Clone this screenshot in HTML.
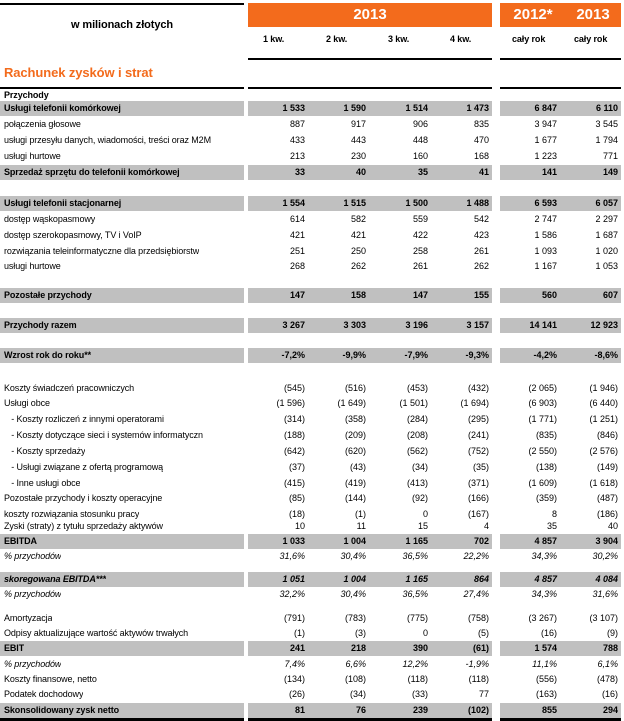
<!DOCTYPE html>
<html><head><meta charset="utf-8">
<style>
body{margin:0;background:#fff;width:624px;height:721px;overflow:hidden;position:relative;font-family:"Liberation Sans",Arial,sans-serif;font-size:9px;color:#000}
.bar{position:absolute;background:#c0c0c0;height:15px}
.ln{position:absolute;height:2px;background:#000}
.or{position:absolute;background:#f36b1c;color:#fff;font-weight:bold;font-size:15px;text-align:center;line-height:24px}
.t{position:absolute;white-space:nowrap;line-height:15px;letter-spacing:-0.1px}
.n{position:absolute;white-space:nowrap;line-height:15px;text-align:right;width:60px}
</style></head><body>
<div class="ln" style="left:0;top:3px;width:244px"></div>
<div class="t" style="left:0;width:244px;text-align:center;top:18px;font-size:11px;font-weight:bold">w milionach złotych</div>
<div class="or" style="left:248px;top:3px;width:244px;height:24px">2013</div>
<div class="or" style="left:500px;top:3px;width:121px;height:24px"><span style="position:absolute;left:6px;width:54px">2012*</span><span style="position:absolute;left:66px;width:54px">2013</span></div>
<div class="t" style="left:263px;top:32px;font-weight:bold">1 kw.</div>
<div class="t" style="left:326px;top:32px;font-weight:bold">2 kw.</div>
<div class="t" style="left:388px;top:32px;font-weight:bold">3 kw.</div>
<div class="t" style="left:450px;top:32px;font-weight:bold">4 kw.</div>
<div class="t" style="left:512px;top:32px;font-weight:bold">cały rok</div>
<div class="t" style="left:574px;top:32px;font-weight:bold">cały rok</div>
<div class="ln" style="left:248px;top:58px;width:244px"></div>
<div class="ln" style="left:500px;top:58px;width:121px"></div>
<div class="t" style="left:4px;top:64px;font-size:13px;font-weight:bold;color:#f36b1c;line-height:18px">Rachunek zysków i strat</div>
<div class="ln" style="left:0;top:87px;width:244px"></div>
<div class="ln" style="left:248px;top:87px;width:244px"></div>
<div class="ln" style="left:500px;top:87px;width:121px"></div>
<div class="ln" style="left:0;top:718px;width:244px;height:3px"></div>
<div class="ln" style="left:248px;top:718px;width:244px;height:3px"></div>
<div class="ln" style="left:500px;top:718px;width:121px;height:3px"></div>
<script>
const labels=["Przychody","Usługi telefonii komórkowej","połączenia głosowe","usługi przesyłu danych, wiadomości, treści oraz M2M","usługi hurtowe","Sprzedaż sprzętu do telefonii komórkowej","Usługi telefonii stacjonarnej","dostęp wąskopasmowy","dostęp szerokopasmowy, TV i VoIP","rozwiązania teleinformatyczne dla przedsiębiorstw","usługi hurtowe","Pozostałe przychody","Przychody razem","Wzrost rok do roku**","Koszty świadczeń pracowniczych","Usługi obce","   - Koszty rozliczeń z innymi operatorami","   - Koszty dotyczące sieci i systemów informatyczn","   - Koszty sprzedaży","   - Usługi związane z ofertą programową","   - Inne usługi obce","Pozostałe przychody i koszty operacyjne","koszty rozwiązania stosunku pracy","Zyski (straty) z tytułu sprzedaży aktywów","EBITDA","% przychodów","skoregowana EBITDA***","% przychodów","Amortyzacja","Odpisy aktualizujące wartość aktywów trwałych","EBIT","% przychodów","Koszty finansowe, netto","Podatek dochodowy","Skonsolidowany zysk netto"];
const styles=["h","b","n","n","n","b","b","n","n","n","n","b","b","b","n","n","n","n","n","n","n","n","n","n","b","i","bi","i","n","n","b","i","n","n","b"];
const rowTops=[88,101,117,133,149,165,196,212,228,244,259,288,318,348,381,396,412,428,444,460,476,491,507,519,534,549,572,587,611,626,641,657,672,687,703];
const q1=["","1 533","887","433","213","33","1 554","614","421","251","268","147","3 267","-7,2%","(545)","(1 596)","(314)","(188)","(642)","(37)","(415)","(85)","(18)","10","1 033","31,6%","1 051","32,2%","(791)","(1)","241","7,4%","(134)","(26)","81"];
const q2=["","1 590","917","443","230","40","1 515","582","421","250","262","158","3 303","-9,9%","(516)","(1 649)","(358)","(209)","(620)","(43)","(419)","(144)","(1)","11","1 004","30,4%","1 004","30,4%","(783)","(3)","218","6,6%","(108)","(34)","76"];
const q3=["","1 514","906","448","160","35","1 500","559","422","258","261","147","3 196","-7,9%","(453)","(1 501)","(284)","(208)","(562)","(34)","(413)","(92)","0","15","1 165","36,5%","1 165","36,5%","(775)","0","390","12,2%","(118)","(33)","239"];
const q4=["","1 473","835","470","168","41","1 488","542","423","261","262","155","3 157","-9,3%","(432)","(1 694)","(295)","(241)","(752)","(35)","(371)","(166)","(167)","4","702","22,2%","864","27,4%","(758)","(5)","(61)","-1,9%","(118)","77","(102)"];
const y2012=["","6 847","3 947","1 677","1 223","141","6 593","2 747","1 586","1 093","1 167","560","14 141","-4,2%","(2 065)","(6 903)","(1 771)","(835)","(2 550)","(138)","(1 609)","(359)","8","35","4 857","34,3%","4 857","34,3%","(3 267)","(16)","1 574","11,1%","(556)","(163)","855"];
const y2013=["","6 110","3 545","1 794","771","149","6 057","2 297","1 687","1 020","1 053","607","12 923","-8,6%","(1 946)","(6 440)","(1 251)","(846)","(2 576)","(149)","(1 618)","(487)","(186)","40","3 904","30,2%","4 084","31,6%","(3 107)","(9)","788","6,1%","(478)","(16)","294"];
const series=[q1,q2,q3,q4,y2012,y2013];
const rightEdges=[305,366,428,489,557,618];
labels.forEach((lab,i)=>{
  const st=styles[i],top=rowTops[i];
  const bold=st.includes('b')||st==='h',ital=st.includes('i'),gray=st==='b'||st==='bi';
  if(gray){
    [[0,244],[248,244],[500,121]].forEach(([l,w])=>{
      const b=document.createElement('div');b.className='bar';
      
      
      b.style.left=l+'px';b.style.width=w+'px';b.style.top=top+'px';document.body.appendChild(b);
    });
  }
  const t=document.createElement('div');t.className='t';
  
  
  t.style.left='4px';t.style.top=top+'px';t.style.maxWidth='240px';t.style.overflow='hidden';
  t.style.whiteSpace='pre';
  if(bold)t.style.fontWeight='bold';if(ital)t.style.fontStyle='italic';
  t.textContent=lab;document.body.appendChild(t);
  series.forEach((s,c)=>{
    if(!s[i])return;
    const n=document.createElement('div');n.className='n';
    
    
    n.style.left=(rightEdges[c]-60)+'px';n.style.top=top+'px';
    if(bold)n.style.fontWeight='bold';if(ital)n.style.fontStyle='italic';
    n.textContent=s[i];document.body.appendChild(n);
  });
});
</script>
</body></html>
